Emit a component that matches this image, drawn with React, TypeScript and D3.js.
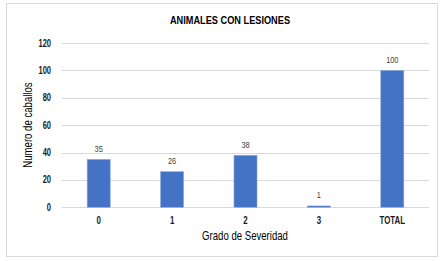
import React from "react";
import * as d3 from "d3";

const categories = ["0", "1", "2", "3", "TOTAL"];
const values = [35, 26, 38, 1, 100];
const yTicks = [0, 20, 40, 60, 80, 100, 120];
const title = "ANIMALES CON LESIONES";
const xTitle = "Grado de Severidad";
const yTitle = "Numero de caballos";

const W = 444;
const H = 261;
const FONT = "'Liberation Sans', Arial, sans-serif";

function NText(props: {
  x: number;
  y: number;
  size: number;
  sx?: number;
  anchor?: string;
  weight?: string;
  fill?: string;
  rotate?: number;
  children: React.ReactNode;
}) {
  const { x, y, size, sx = 0.8, anchor = "middle", weight = "normal", fill = "#000", rotate = 0, children } = props;
  return (
    <text
      transform={`translate(${x},${y}) rotate(${rotate}) scale(${sx},1)`}
      textAnchor={anchor}
      fontSize={size}
      fontWeight={weight}
      fill={fill}
    >
      {children}
    </text>
  );
}

export default function App() {
  const left = 62;
  const right = 429;
  const top = 43;
  const bottom = 207.3;

  const x = d3.scaleBand<string>().domain(categories).range([left, right]).paddingInner(0.686).paddingOuter(0.343);
  const y = d3.scaleLinear().domain([0, 120]).range([bottom, top]);

  return (
    <svg width={W} height={H} style={{ position: "absolute", left: 0, top: 0, background: "#fff" }} fontFamily={FONT}>
      <rect x={6.5} y={3.5} width={431} height={253} fill="#fff" stroke="#d9d9d9" strokeWidth={1} />
      <NText x={230} y={23.5} size={11.5} weight="bold">{title}</NText>
      {yTicks.map((t) => (
        <g key={t}>
          <line x1={left} x2={right} y1={Math.round(y(t)) + 0.5} y2={Math.round(y(t)) + 0.5} stroke="#d9d9d9" strokeWidth={1} />
          <NText x={51} y={y(t) + 3.5} size={10} sx={0.75} anchor="end" weight="bold" fill="#1a1a1a">{t}</NText>
        </g>
      ))}
      {categories.map((c, i) => {
        const bx = x(c)!;
        const bw = x.bandwidth();
        const yt = y(values[i]);
        return (
          <g key={c}>
            <rect x={bx} y={yt} width={bw} height={bottom - yt} fill="#4472c4" stroke="#8faadc" strokeWidth={0.6} />
            <NText x={bx + bw / 2} y={yt - 7.5} size={9.5} sx={0.78} fill="#404040">{values[i]}</NText>
            <NText x={bx + bw / 2} y={224} size={10.5} sx={0.75} weight="bold" fill="#1a1a1a">{c}</NText>
          </g>
        );
      })}
      <NText x={245} y={240} size={12}>{xTitle}</NText>
      <NText x={31.5} y={125} size={12} rotate={-90}>{yTitle}</NText>
    </svg>
  );
}
